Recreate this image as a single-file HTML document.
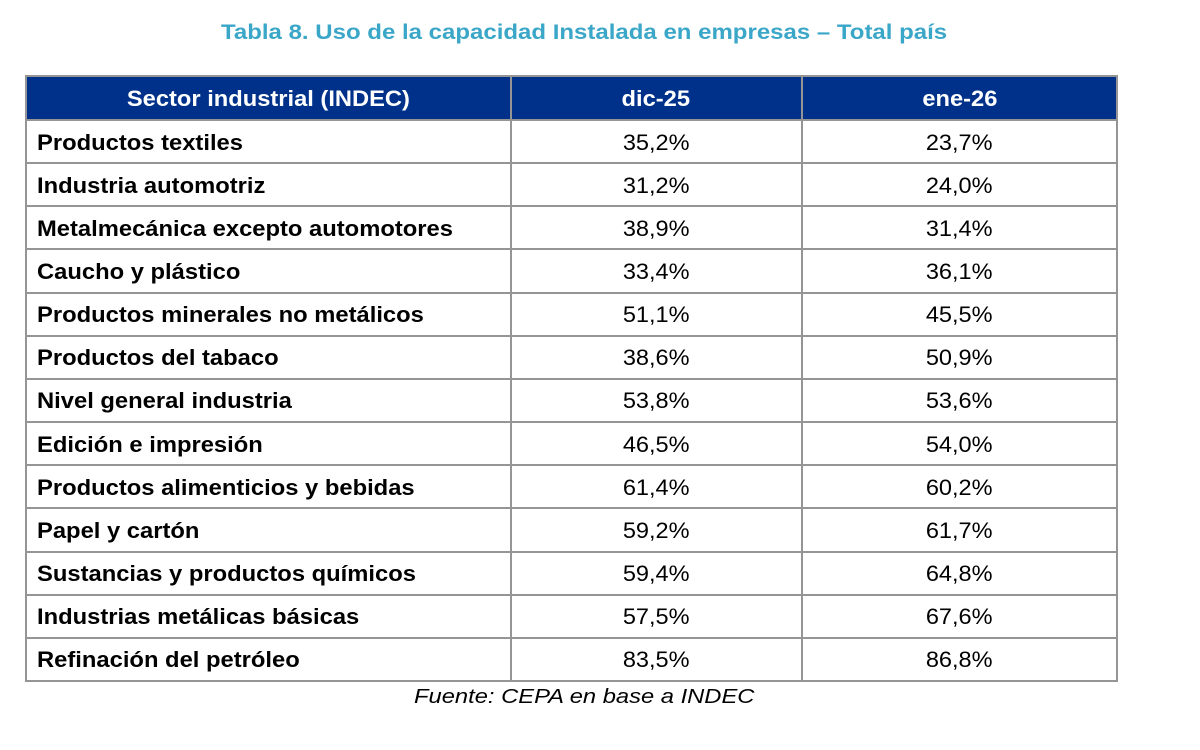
<!DOCTYPE html>
<html>
<head>
<meta charset="utf-8">
<style>
html,body{margin:0;padding:0;background:#fff;}
body{width:1200px;height:750px;position:relative;overflow:hidden;font-family:"Liberation Sans",Arial,sans-serif;}
.a{position:absolute;}
.h{position:absolute;left:25px;width:1093px;height:2px;background:#959595;}
.v{position:absolute;top:75px;height:607px;width:2px;background:#959595;}
.t{position:absolute;height:43px;line-height:43px;font-size:22px;white-space:nowrap;color:#000;}
.t span{display:inline-block;transform:scaleX(1.075);}
.c1{left:37px;font-weight:bold;}
.c1 span{transform-origin:0 50%;transform:scaleX(1.08);}
.c2{left:511px;width:290px;text-align:center;}
.c3{left:803px;width:313px;text-align:center;}
.c2 span,.c3 span{transform-origin:50% 50%;transform:scaleX(1.07);}
.hd{color:#fff;font-weight:bold;}
.hd span{transform-origin:50% 50%;transform:scaleX(1.077);}
</style>
</head>
<body>
<div class="a" style="left:221px;top:20.5px;font-size:21px;line-height:24px;font-weight:bold;color:#3AA6C8;white-space:nowrap;"><span style="display:inline-block;transform-origin:0 50%;transform:scaleX(1.143);">Tabla 8. Uso de la capacidad Instalada en empresas – Total país</span></div>

<div class="a" style="left:27px;top:77px;width:1089px;height:42px;background:#00318A;"></div>

<div class="h" style="top:75px"></div>
<div class="h" style="top:119px"></div>
<div class="h" style="top:162px"></div>
<div class="h" style="top:205px"></div>
<div class="h" style="top:248px"></div>
<div class="h" style="top:292px"></div>
<div class="h" style="top:335px"></div>
<div class="h" style="top:378px"></div>
<div class="h" style="top:421px"></div>
<div class="h" style="top:464px"></div>
<div class="h" style="top:507px"></div>
<div class="h" style="top:551px"></div>
<div class="h" style="top:594px"></div>
<div class="h" style="top:637px"></div>
<div class="h" style="top:680px"></div>

<div class="v" style="left:25px"></div>
<div class="v" style="left:509.5px"></div>
<div class="v" style="left:801px"></div>
<div class="v" style="left:1116px"></div>

<div class="t hd" style="left:27px;width:483px;text-align:center;top:77px"><span>Sector industrial (INDEC)</span></div>
<div class="t hd c2" style="top:77px"><span>dic-25</span></div>
<div class="t hd c3" style="top:77px"><span>ene-26</span></div>

<div class="t c1" style="top:120.5px"><span>Productos textiles</span></div>
<div class="t c2" style="top:120.5px"><span>35,2%</span></div>
<div class="t c3" style="top:120.5px"><span>23,7%</span></div>

<div class="t c1" style="top:163.6px"><span>Industria automotriz</span></div>
<div class="t c2" style="top:163.6px"><span>31,2%</span></div>
<div class="t c3" style="top:163.6px"><span>24,0%</span></div>

<div class="t c1" style="top:206.8px"><span>Metalmecánica excepto automotores</span></div>
<div class="t c2" style="top:206.8px"><span>38,9%</span></div>
<div class="t c3" style="top:206.8px"><span>31,4%</span></div>

<div class="t c1" style="top:250px"><span>Caucho y plástico</span></div>
<div class="t c2" style="top:250px"><span>33,4%</span></div>
<div class="t c3" style="top:250px"><span>36,1%</span></div>

<div class="t c1" style="top:293.1px"><span>Productos minerales no metálicos</span></div>
<div class="t c2" style="top:293.1px"><span>51,1%</span></div>
<div class="t c3" style="top:293.1px"><span>45,5%</span></div>

<div class="t c1" style="top:336.3px"><span>Productos del tabaco</span></div>
<div class="t c2" style="top:336.3px"><span>38,6%</span></div>
<div class="t c3" style="top:336.3px"><span>50,9%</span></div>

<div class="t c1" style="top:379.4px"><span>Nivel general industria</span></div>
<div class="t c2" style="top:379.4px"><span>53,8%</span></div>
<div class="t c3" style="top:379.4px"><span>53,6%</span></div>

<div class="t c1" style="top:422.5px"><span>Edición e impresión</span></div>
<div class="t c2" style="top:422.5px"><span>46,5%</span></div>
<div class="t c3" style="top:422.5px"><span>54,0%</span></div>

<div class="t c1" style="top:465.7px"><span>Productos alimenticios y bebidas</span></div>
<div class="t c2" style="top:465.7px"><span>61,4%</span></div>
<div class="t c3" style="top:465.7px"><span>60,2%</span></div>

<div class="t c1" style="top:508.9px"><span>Papel y cartón</span></div>
<div class="t c2" style="top:508.9px"><span>59,2%</span></div>
<div class="t c3" style="top:508.9px"><span>61,7%</span></div>

<div class="t c1" style="top:552px"><span>Sustancias y productos químicos</span></div>
<div class="t c2" style="top:552px"><span>59,4%</span></div>
<div class="t c3" style="top:552px"><span>64,8%</span></div>

<div class="t c1" style="top:595.2px"><span>Industrias metálicas básicas</span></div>
<div class="t c2" style="top:595.2px"><span>57,5%</span></div>
<div class="t c3" style="top:595.2px"><span>67,6%</span></div>

<div class="t c1" style="top:638.3px"><span>Refinación del petróleo</span></div>
<div class="t c2" style="top:638.3px"><span>83,5%</span></div>
<div class="t c3" style="top:638.3px"><span>86,8%</span></div>

<div class="a" style="left:414px;top:685px;font-size:20.5px;line-height:24px;font-style:italic;color:#000;white-space:nowrap;"><span style="display:inline-block;transform-origin:0 50%;transform:scaleX(1.158);">Fuente: CEPA en base a INDEC</span></div>
</body>
</html>
